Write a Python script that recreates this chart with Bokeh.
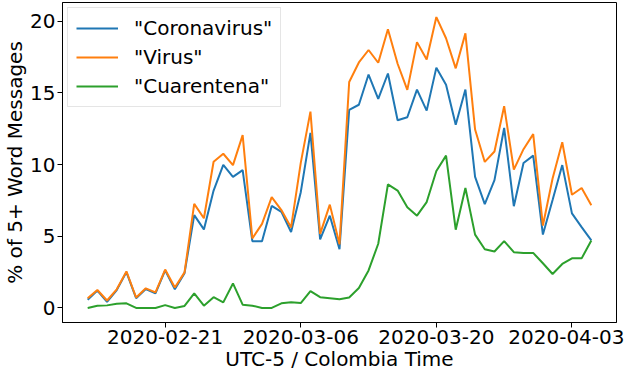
import pandas as pd
from bokeh.plotting import figure
from bokeh.models import FixedTicker, DatetimeTickFormatter, Range1d
from bokeh.embed import file_html
from bokeh.resources import INLINE

start_date = "2020-02-13"
coronavirus = [0.57, 1.21, 0.43, 1.25, 2.5, 0.68, 1.32, 1.02, 2.62, 1.3, 2.43, 6.48, 5.48, 8.19, 9.99,
               9.15, 9.62, 4.66, 4.66, 7.12, 6.71, 5.3, 8.08, 12.22, 4.78, 6.44, 4.1, 13.83, 14.18,
               16.29, 14.59, 16.36, 13.1, 13.31, 15.24, 13.77, 16.77, 15.58, 12.79, 15.24, 9.15, 7.24,
               8.92, 12.56, 7.1, 10.12, 10.63, 5.12, 7.53, 9.97, 6.6, 5.64, 4.71]
virus = [0.68, 1.25, 0.52, 1.3, 2.55, 0.73, 1.37, 1.09, 2.68, 1.43, 2.48, 7.26, 6.26, 10.2, 10.76,
         9.97, 12.06, 4.85, 5.87, 7.73, 6.83, 5.62, 10.12, 13.7, 5.17, 7.21, 4.44, 15.77, 17.13,
         18.0, 17.11, 19.45, 17.04, 15.22, 18.55, 17.34, 20.3, 18.82, 16.72, 19.16, 12.45, 10.19,
         10.92, 14.08, 9.65, 11.08, 12.13, 5.75, 9.03, 11.56, 7.9, 8.37, 7.17]
cuarentena = [0.0, 0.16, 0.18, 0.3, 0.32, 0.0, 0.0, 0.0, 0.2, 0.0, 0.14, 1.02, 0.16, 0.75, 0.39,
              1.71, 0.23, 0.16, 0.0, 0.0, 0.32, 0.39, 0.34, 1.18, 0.75, 0.68, 0.61, 0.73, 1.39,
              2.62, 4.48, 8.62, 8.19, 7.03, 6.44, 7.39, 9.56, 10.63, 5.46, 8.37, 5.12, 4.1,
              3.94, 4.66, 3.89, 3.84, 3.84, 3.12, 2.37, 3.07, 3.46, 3.46, 4.71]
series_labels = ['"Coronavirus"', '"Virus"', '"Cuarentena"']
series_colors = ["#1f77b4", "#ff7f0e", "#2ca02c"]
x_tick_dates = ["2020-02-21", "2020-03-06", "2020-03-20", "2020-04-03"]
y_ticks = [0, 5, 10, 15, 20]

dates = pd.date_range(start_date, periods=len(coronavirus), freq="D")
span = dates[-1] - dates[0]
pad = span * 0.05
all_vals = coronavirus + virus + cuarentena
ymin, ymax = min(all_vals), max(all_vals)
ypad = (ymax - ymin) * 0.05

FONT = "DejaVu Sans"

p = figure(x_axis_type="datetime",
           frame_width=554, frame_height=320,
           min_border_left=56, min_border_right=8, min_border_top=2, min_border_bottom=44,
           output_backend="svg", toolbar_location=None,
           x_range=Range1d((dates[0] - pad).to_pydatetime(), (dates[-1] + pad).to_pydatetime()),
           y_range=Range1d(ymin - ypad, ymax + ypad))

for vals, lab, col in zip([coronavirus, virus, cuarentena], series_labels, series_colors):
    p.line(dates, vals, line_color=col, line_width=2, legend_label=lab)

p.xgrid.visible = False
p.ygrid.visible = False
p.outline_line_color = "black"
p.outline_line_alpha = 1
p.outline_line_width = 1

p.xaxis.ticker = FixedTicker(ticks=[pd.Timestamp(d).timestamp() * 1000 for d in x_tick_dates])
fmt = "%Y-%m-%d"
p.xaxis.formatter = DatetimeTickFormatter(days=fmt, months=fmt, hours=fmt, years=fmt,
                                          minutes=fmt, seconds=fmt, milliseconds=fmt,
                                          microseconds=fmt, minsec=fmt, hourmin=fmt)
p.yaxis.ticker = FixedTicker(ticks=y_ticks)
p.xaxis.axis_label = "UTC-5 / Colombia Time"
p.yaxis.axis_label = "% of 5+ Word Messages"

for ax in [p.xaxis[0], p.yaxis[0]]:
    ax.major_label_text_font = FONT
    ax.major_label_text_font_size = "20px"
    ax.major_label_text_color = "black"
    ax.axis_label_text_font = FONT
    ax.axis_label_text_font_size = "20px"
    ax.axis_label_text_font_style = "normal"
    ax.axis_label_text_color = "black"
    ax.axis_line_color = "black"
    ax.major_tick_line_color = "black"
    ax.minor_tick_line_color = None
    ax.major_tick_in = 0
    ax.major_tick_out = 5
    ax.major_label_standoff = 2
    ax.axis_label_standoff = 0

lg = p.legend[0]
lg.location = "top_left"
lg.margin = 5
lg.padding = 8
lg.spacing = 5
lg.glyph_width = 42
lg.glyph_height = 20
lg.label_standoff = 16
lg.label_text_font = FONT
lg.label_text_font_size = "20px"
lg.label_text_color = "black"
lg.border_line_color = "#cccccc"
lg.border_line_width = 1
lg.background_fill_alpha = 0.8

open("out.html", "w").write(file_html(p, INLINE))
